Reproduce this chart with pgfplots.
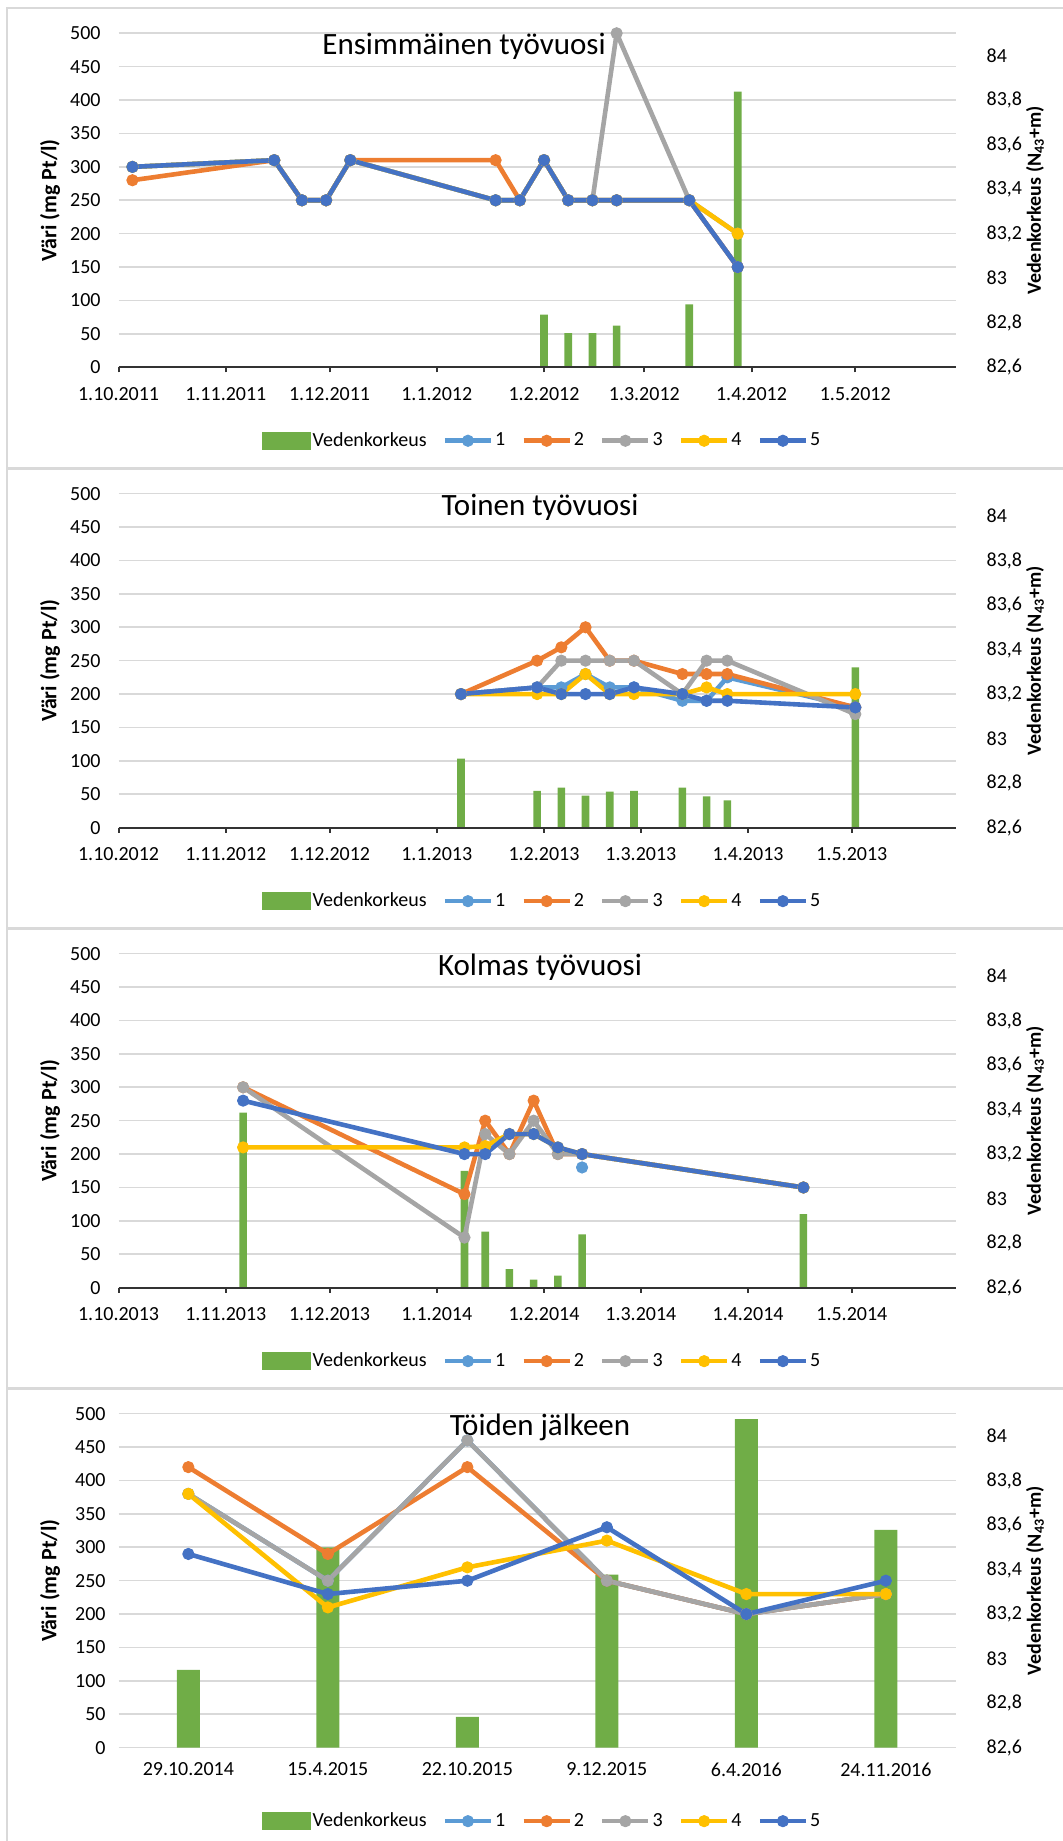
\documentclass[border=0pt]{standalone}
\usepackage{fontspec}
\setmainfont{Carlito}
\usepackage{pgfplots}
\pgfplotsset{compat=1.18}
\definecolor{cA}{HTML}{5B9BD5}
\definecolor{cB}{HTML}{ED7D31}
\definecolor{cC}{HTML}{A5A5A5}
\definecolor{cD}{HTML}{FFC000}
\definecolor{cE}{HTML}{4472C4}
\definecolor{vgreen}{HTML}{70AD47}
\definecolor{gridgray}{HTML}{D9D9D9}
\pgfplotsset{
  panel/.style={scale only axis, width=418.5pt, height=167pt, anchor=south west},
  baraxis/.style={panel, ymin=82.6, ymax=84.1,
    axis y line*=right, axis x line=none, y axis line style={draw=none},
    ytick={82.6,82.8,83,83.2,83.4,83.6,83.8,84},
    major tick length=0pt,
    yticklabel style={font=\fontsize{10}{12}\selectfont, anchor=west, xshift=12pt,
      /pgf/number format/use comma, /pgf/number format/assume math mode=true},
    extra y ticks={82.6,82.75,82.9,83.05,83.2,83.35,83.5,83.65,83.8,83.95,84.1},
    extra y tick labels={},
    extra y tick style={grid=major, major grid style={color=gridgray, line width=0.8pt}},
  },
  lineaxis/.style={panel, ymin=0, ymax=500, clip=false,
    axis y line*=left, axis x line*=bottom, y axis line style={draw=none},
    ytick={0,50,...,500}, ytick style={draw=none},
    /pgf/number format/assume math mode=true,
    tick label style={font=\fontsize{10}{12}\selectfont},
    yticklabel style={anchor=east, xshift=-3pt},
    xticklabel style={yshift=-4pt},
    legend columns=6,
    legend style={at={(0.506,-0.22)}, anchor=center, draw=none, fill=none,
      font=\fontsize{10}{12}\selectfont, nodes={inner sep=1pt},
      /tikz/every even column/.append style={column sep=7pt}},
    legend image code/.code={\draw[mark repeat=2,mark phase=2,##1] plot coordinates {(0pt,0pt) (11.5pt,0pt) (23pt,0pt)};},
  },
  dateaxis/.style={xmin=0, xmax=242, tick align=outside, major tick length=2.5pt,
    x axis line style={black!80, line width=1pt}, xtick style={black!80, line width=1pt}},
  ser/.style={color=#1, line width=2.3pt, mark=*, mark size=2.8pt,
    mark options={solid, fill=#1, line width=0.5pt}, line join=round},
  bars/.style={ybar, bar shift=0pt, fill=vgreen, draw=none},
}
\newcommand{\barlegend}{\addlegendimage{legend image code/.code={\fill[vgreen] (0pt,-4.25pt) rectangle (24pt,4.25pt);}}\addlegendentry{Vedenkorkeus}}
\newcommand{\axlabels}{%
  \node[rotate=90, font=\bfseries\fontsize{11}{13}\selectfont] at ([xshift=-34.3pt]rel axis cs:0,0.5) {Väri (mg Pt/l)};
  \node[rotate=90, font=\bfseries\fontsize{10}{12}\selectfont] at ([xshift=39.7pt]rel axis cs:1,0.5) {Vedenkorkeus (N\textsubscript{43}+m)};}
\begin{document}
\begin{tikzpicture}
\path[use as bounding box] (0,0) rectangle (531.5pt,920.5pt);
\draw[gridgray, line width=0.8pt] (3.5pt,686.5pt) rectangle (540pt,916.5pt);
\draw[gridgray, line width=0.8pt] (3.5pt,456.5pt) rectangle (540pt,686pt);
\draw[gridgray, line width=0.8pt] (3.5pt,226.5pt) rectangle (540pt,456pt);
\draw[gridgray, line width=0.8pt] (3.5pt,-5pt) rectangle (540pt,226pt);

% ---------------- Panel 1 ----------------
\begin{axis}[baraxis, at={(59.3pt,736.85pt)}, xmin=0, xmax=242]
\addplot[bars, bar width=2.2] coordinates {(123,82.837) (130,82.753) (137,82.753) (144,82.787) (165,82.883) (179,83.838)};
\end{axis}
\begin{axis}[lineaxis, dateaxis, at={(59.3pt,736.85pt)},
  xtick={0,31,61,92,123,152,183,213},
  xticklabels={1.10.2011,1.11.2011,1.12.2011,1.1.2012,1.2.2012,1.3.2012,1.4.2012,1.5.2012}]
\barlegend
\addplot[ser=cA] coordinates {(4,300) (45,310) (53,250) (60,250) (67,310) (109,250) (116,250) (123,310) (130,250) (137,250) (144,250) (165,250) (179,150)};
\addlegendentry{1}
\addplot[ser=cB] coordinates {(4,280) (45,310) (53,250) (60,250) (67,310) (109,310) (116,250) (123,310) (130,250) (137,250) (144,250) (165,250) (179,150)};
\addlegendentry{2}
\addplot[ser=cC] coordinates {(4,300) (45,310) (53,250) (60,250) (67,310) (109,250) (116,250) (123,310) (130,250) (137,250) (144,500) (165,250) (179,200)};
\addlegendentry{3}
\addplot[ser=cD] coordinates {(4,300) (45,310) (53,250) (60,250) (67,310) (109,250) (116,250) (123,310) (130,250) (137,250) (144,250) (165,250) (179,200)};
\addlegendentry{4}
\addplot[ser=cE] coordinates {(4,300) (45,310) (53,250) (60,250) (67,310) (109,250) (116,250) (123,310) (130,250) (137,250) (144,250) (165,250) (179,150)};
\addlegendentry{5}
\node[font=\fontsize{15.5}{18}\selectfont] at (rel axis cs:0.4127,0.96) {Ensimmäinen työvuosi};
\axlabels
\end{axis}

% ---------------- Panel 2 ----------------
\begin{axis}[baraxis, at={(59.3pt,506.65pt)}, xmin=0, xmax=242]
\addplot[bars, bar width=2.2] coordinates {(99,82.91) (121,82.765) (128,82.78) (135,82.744) (142,82.762) (149,82.765) (163,82.78) (170,82.741) (176,82.723) (213,83.32)};
\end{axis}
\begin{axis}[lineaxis, dateaxis, at={(59.3pt,506.65pt)},
  xtick={0,31,61,92,123,151,182,212},
  xticklabels={1.10.2012,1.11.2012,1.12.2012,1.1.2013,1.2.2013,1.3.2013,1.4.2013,1.5.2013}]
\barlegend
\addplot[ser=cA] coordinates {(99,200) (121,210) (128,210) (135,230) (142,210) (149,210) (163,190) (170,190) (176,225) (213,180)};
\addlegendentry{1}
\addplot[ser=cB] coordinates {(99,200) (121,250) (128,270) (135,300) (142,250) (149,250) (163,230) (170,230) (176,230) (213,180)};
\addlegendentry{2}
\addplot[ser=cC] coordinates {(99,200) (121,210) (128,250) (135,250) (142,250) (149,250) (163,200) (170,250) (176,250) (213,170)};
\addlegendentry{3}
\addplot[ser=cD] coordinates {(99,200) (121,200) (128,200) (135,230) (142,200) (149,200) (163,200) (170,210) (176,200) (213,200)};
\addlegendentry{4}
\addplot[ser=cE] coordinates {(99,200) (121,210) (128,200) (135,200) (142,200) (149,210) (163,200) (170,190) (176,190) (213,180)};
\addlegendentry{5}
\node[font=\fontsize{15.5}{18}\selectfont] at (rel axis cs:0.5035,0.958) {Toinen työvuosi};
\axlabels
\end{axis}

% ---------------- Panel 3 ----------------
\begin{axis}[baraxis, at={(59.3pt,276.65pt)}, xmin=0, xmax=242]
\addplot[bars, bar width=2.2] coordinates {(36,83.386) (100,83.125) (106,82.852) (113,82.683) (120,82.636) (127,82.654) (134,82.84) (198,82.93)};
\end{axis}
\begin{axis}[lineaxis, dateaxis, at={(59.3pt,276.65pt)},
  xtick={0,31,61,92,123,151,182,212},
  xticklabels={1.10.2013,1.11.2013,1.12.2013,1.1.2014,1.2.2014,1.3.2014,1.4.2014,1.5.2014}]
\barlegend
\addplot[ser=cA] coordinates {(134,180)};
\addlegendentry{1}
\addplot[ser=cB] coordinates {(36,300) (100,140) (106,250) (113,200) (120,280) (127,200) (134,200) (198,150)};
\addlegendentry{2}
\addplot[ser=cC] coordinates {(36,300) (100,75) (106,230) (113,200) (120,250) (127,200) (134,200) (198,150)};
\addlegendentry{3}
\addplot[ser=cD] coordinates {(36,210) (100,210) (106,212) (113,230) (120,230) (127,210) (134,200) (198,150)};
\addlegendentry{4}
\addplot[ser=cE] coordinates {(36,280) (100,200) (106,200) (113,230) (120,230) (127,210) (134,200) (198,150)};
\addlegendentry{5}
\node[font=\fontsize{15.5}{18}\selectfont] at (rel axis cs:0.5035,0.958) {Kolmas työvuosi};
\axlabels
\end{axis}

% ---------------- Panel 4 ----------------
\begin{axis}[baraxis, at={(59.3pt,46.65pt)}, xmin=-0.5, xmax=5.5]
\addplot[bars, bar width=0.165] coordinates {(0,82.949) (1,83.5) (2,82.738) (3,83.377) (4,84.076) (5,83.578)};
\end{axis}
\begin{axis}[lineaxis, at={(59.3pt,46.65pt)}, xmin=-0.5, xmax=5.5,
  x axis line style={draw=none}, xtick style={draw=none}, major tick length=0pt,
  xtick={0,1,2,3,4,5},
  xticklabels={29.10.2014,15.4.2015,22.10.2015,9.12.2015,6.4.2016,24.11.2016}]
\barlegend
\addplot[ser=cA] coordinates {(0,380) (1,250) (2,460) (3,250) (4,200) (5,230)};
\addlegendentry{1}
\addplot[ser=cB] coordinates {(0,420) (1,290) (2,420) (3,250) (4,200) (5,230)};
\addlegendentry{2}
\addplot[ser=cC] coordinates {(0,380) (1,250) (2,460) (3,250) (4,200) (5,230)};
\addlegendentry{3}
\addplot[ser=cD] coordinates {(0,380) (1,210) (2,270) (3,310) (4,230) (5,230)};
\addlegendentry{4}
\addplot[ser=cE] coordinates {(0,290) (1,230) (2,250) (3,330) (4,200) (5,250)};
\addlegendentry{5}
\node[font=\fontsize{15.5}{18}\selectfont] at (rel axis cs:0.5035,0.958) {Töiden jälkeen};
\axlabels
\end{axis}
\end{tikzpicture}
\end{document}
